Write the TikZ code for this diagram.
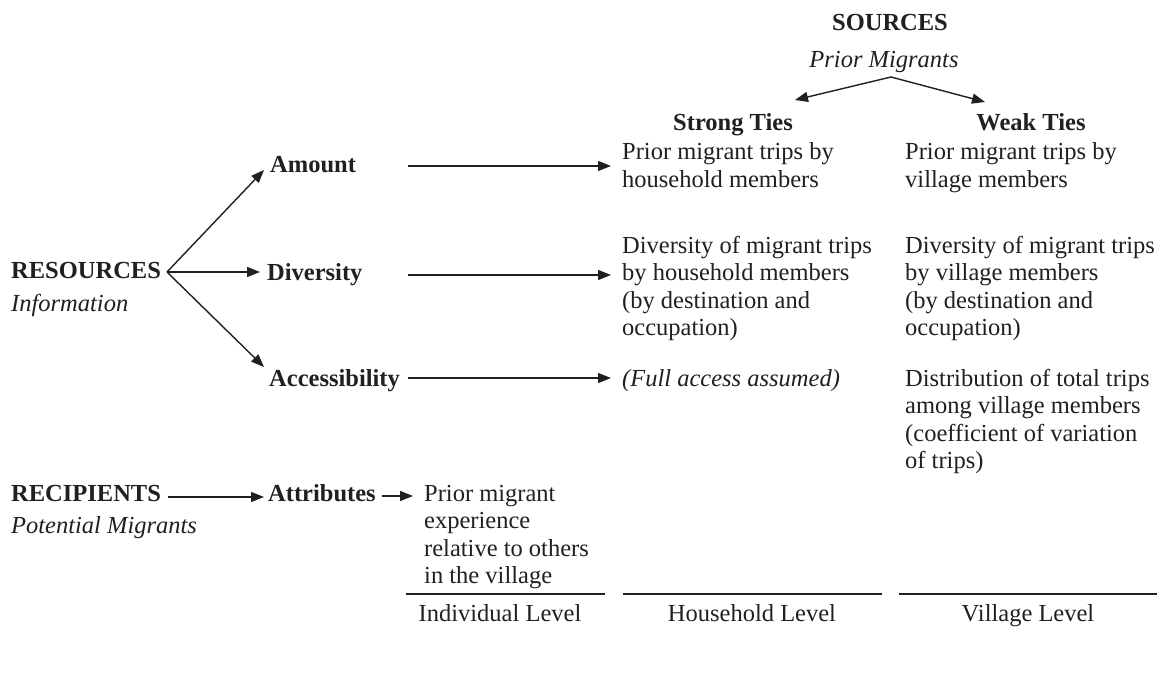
\documentclass[tikz,border=0pt]{standalone}
\usepackage{fontspec}
\setmainfont{Liberation Serif}
\usetikzlibrary{arrows.meta}
\definecolor{ink}{RGB}{35,31,32}
\newcommand\mlines[1]{\begin{tabular}[t]{@{}l@{}}#1\end{tabular}}
\begin{document}
\begin{tikzpicture}[x=1pt,y=-1pt,
  every node/.style={inner sep=0pt, text=ink, font=\fontsize{24.5}{27.5}\selectfont},
  bold/.style={font=\fontsize{24.5}{27.5}\selectfont\bfseries},
  ital/.style={font=\fontsize{24.5}{27.5}\selectfont\itshape},
  conn/.style={draw=ink, line width=1.4pt, -{Triangle[length=13pt,width=10pt]}},
  lvl/.style={draw=ink, line width=2.5pt}]
\useasboundingbox[fill=white] (0,0) rectangle (1169,679);

% Sources
\node[bold, anchor=base] (src) at (890,31) {SOURCES};
\node[ital, anchor=base] (srcs) at (884,68) {Prior Migrants};
\coordinate (apex) at (891,77);
\coordinate (stTip) at (795,100);
\coordinate (wkTip) at (985,102);
\node[bold, anchor=base] (strong) at (733,131) {Strong Ties};
\node[bold, anchor=base] (weak) at (1031,131) {Weak Ties};
\draw[conn] (apex) -- (stTip);
\draw[conn] (apex) -- (wkTip);

% Resources
\node[bold, anchor=base west] (res) at (11,278) {RESOURCES};
\node[ital, anchor=base west] (info) at (11,311) {Information};
\coordinate (resP) at (167,272);
\node[bold, anchor=base west] (amt) at (270,173) {Amount};
\node[bold, anchor=base west] (div) at (267,280) {Diversity};
\node[bold, anchor=base west] (acc) at (269,386) {Accessibility};
\coordinate (amtT) at (264,170);
\coordinate (divT) at (260,272);
\coordinate (accT) at (264,367);
\draw[conn] (resP) -- (amtT);
\draw[conn] (resP) -- (divT);
\draw[conn] (resP) -- (accT);

% Household column
\node[anchor=base west] (hhA) at (622,160) {\mlines{Prior migrant trips by\\household members}};
\node[anchor=base west] (hhD) at (622,253) {\mlines{Diversity of migrant trips\\by household members\\(by destination and\\occupation)}};
\node[ital, anchor=base west] (hhC) at (622,386) {(Full access assumed)};

% Village column
\node[anchor=base west] (vA) at (905,160) {\mlines{Prior migrant trips by\\village members}};
\node[anchor=base west] (vD) at (905,253) {\mlines{Diversity of migrant trips\\by village members\\(by destination and\\occupation)}};
\node[anchor=base west] (vC) at (905,386) {\mlines{Distribution of total trips\\among village members\\(coefficient of variation\\of trips)}};

% Long arrows
\coordinate (amtS) at (408,166);
\coordinate (amtE) at (611,166);
\coordinate (divS) at (408,275);
\coordinate (divE) at (611,275);
\coordinate (accS) at (408,378);
\coordinate (accE) at (611,378);
\draw[conn] (amtS) -- (amtE);
\draw[conn] (divS) -- (divE);
\draw[conn] (accS) -- (accE);

% Recipients
\node[bold, anchor=base west] (rec) at (11,501) {RECIPIENTS};
\node[ital, anchor=base west] (pot) at (11,533) {Potential Migrants};
\node[bold, anchor=base west] (att) at (268,501) {Attributes};
\node[anchor=base west] (ind) at (424,501) {\mlines{Prior migrant\\experience\\relative to others\\in the village}};
\coordinate (recS) at (168,497);
\coordinate (recE) at (264,497);
\coordinate (attS) at (382,496);
\coordinate (attE) at (413,496);
\draw[conn] (recS) -- (recE);
\draw[conn] (attS) -- (attE);

% Levels
\coordinate (l1a) at (406,594); \coordinate (l1b) at (605,594);
\coordinate (l2a) at (623,594); \coordinate (l2b) at (882,594);
\coordinate (l3a) at (899,594); \coordinate (l3b) at (1157,594);
\draw[lvl] (l1a) -- (l1b);
\draw[lvl] (l2a) -- (l2b);
\draw[lvl] (l3a) -- (l3b);
\node[anchor=base] (lv1) at (500,621) {Individual Level};
\node[anchor=base] (lv2) at (752,621) {Household Level};
\node[anchor=base] (lv3) at (1028,621) {Village Level};
\end{tikzpicture}
\end{document}
